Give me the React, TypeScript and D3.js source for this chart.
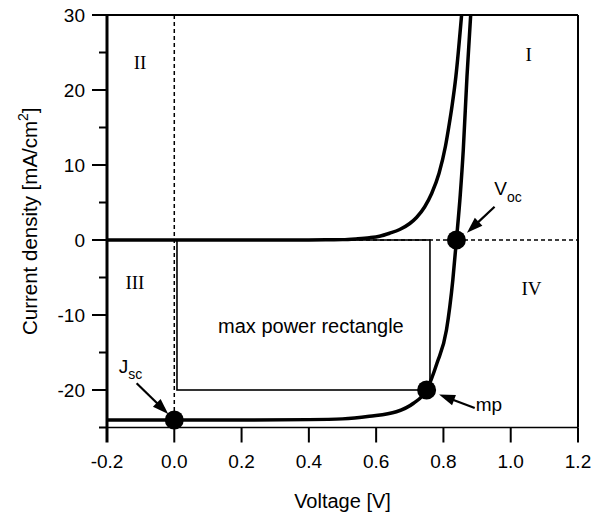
import React from 'react';
import * as d3 from 'd3';

const W = 592;
const H = 517;

// Axis ticks
const voltageTicks = [-0.2, 0.0, 0.2, 0.4, 0.6, 0.8, 1.0, 1.2];
const voltageTickLabels = ['-0.2', '0.0', '0.2', '0.4', '0.6', '0.8', '1.0', '1.2'];
const currentMajorTicks = [30, 20, 10, 0, -10, -20];
const currentMinorTicks = [25, 15, 5, -5, -15, -25];

// Dark J-V curve
const darkVoltage = [-0.2, 0.0, 0.2, 0.4, 0.45, 0.5, 0.54, 0.58, 0.61, 0.64, 0.67, 0.70, 0.72, 0.744, 0.765, 0.787, 0.806, 0.816, 0.826, 0.837, 0.854];
const darkCurrent = [0, 0, 0, 0, 0.02, 0.05, 0.15, 0.3, 0.5, 0.9, 1.4, 2.2, 3.0, 4.4, 6.2, 8.9, 12.5, 15.1, 18.0, 21.8, 30];

// Illuminated J-V curve
const lightVoltage = [-0.2, 0.0, 0.2, 0.4, 0.5, 0.58, 0.66, 0.71, 0.75, 0.781, 0.809, 0.828, 0.8386, 0.85, 0.859, 0.870, 0.881];
const lightCurrent = [-24, -24, -24, -23.95, -23.85, -23.5, -22.9, -21.8, -20, -16.4, -12, -5.3, 0, 6, 12, 21.8, 30];

// Marked points
const pointNames = ['Jsc', 'mp', 'Voc'];
const pointVoltage = [0.0, 0.75, 0.8386];
const pointCurrent = [-24, -20, 0];

// Max power rectangle corners (V, J)
const rectVoltage = [0.008, 0.76];
const rectCurrent = [0, -20];

// Quadrant labels
const quadrantText = ['I', 'II', 'III', 'IV'];
const quadrantVoltage = [1.053, -0.102, -0.117, 1.062];
const quadrantCurrent = [24.7, 23.7, -5.6, -6.4];

export default function App() {
  const x = d3.scaleLinear().domain([-0.2, 1.2]).range([107, 578]);
  const y = d3.scaleLinear().domain([-25, 30]).range([427.5, 15]);

  const line = d3
    .line<[number, number]>()
    .x((d) => x(d[0]))
    .y((d) => y(d[1]))
    .curve(d3.curveMonotoneX);

  const darkPath = line(darkVoltage.map((v, i) => [v, darkCurrent[i]]) as [number, number][]) || '';
  const lightPath = line(lightVoltage.map((v, i) => [v, lightCurrent[i]]) as [number, number][]) || '';

  const sans = 'Liberation Sans, Arial, Helvetica, sans-serif';
  const serif = 'Liberation Serif, Times New Roman, serif';

  const x0 = x(-0.2);
  const x1 = x(1.2);
  const yTop = y(30);
  const yBot = y(-25);

  const arrow = (v0: number, j0: number, v1: number, j1: number, key: string) => {
    const ax = x(v0), ay = y(j0), bx = x(v1), by = y(j1);
    const dx = bx - ax, dy = by - ay;
    const len = Math.sqrt(dx * dx + dy * dy);
    const ux = dx / len, uy = dy / len;
    const hl = 16, hw = 5.5;
    const baseX = bx - ux * hl, baseY = by - uy * hl;
    const p1 = [baseX - uy * hw, baseY + ux * hw];
    const p2 = [baseX + uy * hw, baseY - ux * hw];
    return (
      <g key={key}>
        <line x1={ax} y1={ay} x2={baseX + ux * 2} y2={baseY + uy * 2} stroke="#000" strokeWidth={2.2} />
        <polygon points={`${bx},${by} ${p1[0]},${p1[1]} ${p2[0]},${p2[1]}`} fill="#000" />
      </g>
    );
  };

  return (
    <svg width={W} height={H} style={{ position: 'absolute', left: 0, top: 0, background: '#fff' }}>
      <rect x={0} y={0} width={W} height={H} fill="#fff" />

      {/* dashed reference lines */}
      <line x1={x(0)} x2={x(0)} y1={yTop} y2={yBot} stroke="#000" strokeWidth={1.5} strokeDasharray="4,3" />
      <line x1={x0} x2={x1} y1={y(0)} y2={y(0)} stroke="#000" strokeWidth={1.5} strokeDasharray="4,3" />

      {/* max power rectangle */}
      <rect
        x={x(rectVoltage[0])}
        y={y(rectCurrent[0])}
        width={x(rectVoltage[1]) - x(rectVoltage[0])}
        height={y(rectCurrent[1]) - y(rectCurrent[0])}
        fill="none"
        stroke="#000"
        strokeWidth={1.6}
      />

      {/* curves */}
      <path d={darkPath} fill="none" stroke="#000" strokeWidth={3.5} />
      <path d={lightPath} fill="none" stroke="#000" strokeWidth={3.5} />

      {/* points */}
      {pointNames.map((n, i) => (
        <circle key={n} cx={x(pointVoltage[i])} cy={y(pointCurrent[i])} r={9.5} fill="#000" />
      ))}

      {/* frame */}
      <line x1={x0} x2={x1} y1={yTop} y2={yTop} stroke="#000" strokeWidth={2} />
      <line x1={x1} x2={x1} y1={yTop} y2={yBot} stroke="#000" strokeWidth={2} />
      <line x1={x0} x2={x1} y1={yBot} y2={yBot} stroke="#000" strokeWidth={1.5} />
      <line x1={x0} x2={x0} y1={yTop} y2={yBot} stroke="#000" strokeWidth={3} />

      {/* y ticks */}
      {currentMajorTicks.map((t) => (
        <g key={'ym' + t}>
          <line x1={x0 - 15} x2={x0} y1={y(t)} y2={y(t)} stroke="#000" strokeWidth={2} />
          <text x={x0 - 22} y={y(t)} dy="0.35em" textAnchor="end" fontFamily={sans} fontSize={19}>
            {t}
          </text>
        </g>
      ))}
      {currentMinorTicks.map((t) => (
        <line key={'yn' + t} x1={x0 - 8} x2={x0} y1={y(t)} y2={y(t)} stroke="#000" strokeWidth={2} />
      ))}

      {/* x ticks */}
      {voltageTicks.map((t, i) => (
        <g key={'x' + i}>
          <line x1={x(t)} x2={x(t)} y1={yBot} y2={yBot + 15} stroke="#000" strokeWidth={i === 0 ? 3 : 2} />
          <text x={x(t)} y={468} textAnchor="middle" fontFamily={sans} fontSize={19}>
            {voltageTickLabels[i]}
          </text>
        </g>
      ))}

      {/* axis titles */}
      <text x={(x0 + x1) / 2} y={508} textAnchor="middle" fontFamily={sans} fontSize={20}>
        Voltage [V]
      </text>
      <text
        transform={`translate(37, ${(yTop + yBot) / 2}) rotate(-90)`}
        textAnchor="middle"
        fontFamily={sans}
        fontSize={20.5}
      >
        Current density [mA/cm
        <tspan fontSize={14} dy={-9}>2</tspan>
        <tspan dy={9}>]</tspan>
      </text>

      {/* quadrant labels */}
      {quadrantText.map((q, i) => (
        <text
          key={q}
          x={x(quadrantVoltage[i])}
          y={y(quadrantCurrent[i])}
          dy="0.35em"
          textAnchor="middle"
          fontFamily={serif}
          fontSize={19}
        >
          {q}
        </text>
      ))}

      {/* max power rectangle label */}
      <text x={x(0.406)} y={y(-12.4)} textAnchor="middle" fontFamily={sans} fontSize={20}>
        max power rectangle
      </text>

      {/* point labels */}
      <text x={x(-0.165)} y={y(-17.7)} fontFamily={sans} fontSize={19}>
        J<tspan fontSize={14} dy={6}>sc</tspan>
      </text>
      <text x={x(0.951)} y={y(6)} fontFamily={sans} fontSize={19}>
        V<tspan fontSize={14} dy={7}>oc</tspan>
      </text>
      <text x={x(0.896)} y={y(-22.8)} fontFamily={sans} fontSize={19}>
        mp
      </text>

      {/* arrows */}
      {arrow(-0.112, -19.1, -0.018, -23.2, 'a1')}
      {arrow(0.952, 4.44, 0.87, 0.97, 'a2')}
      {arrow(0.893, -22.4, 0.787, -20.6, 'a3')}
    </svg>
  );
}
